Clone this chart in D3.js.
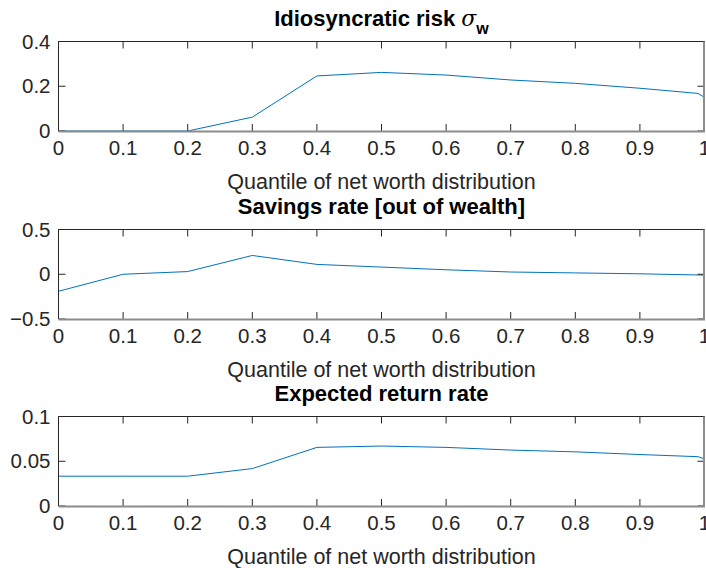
<!DOCTYPE html>
<html>
<head>
<meta charset="utf-8">
<script src="https://cdn.jsdelivr.net/npm/d3@7"></script>
<style>
  body { margin: 0; background: #fff; }
  svg { display: block; }
  text { font-family: "Liberation Sans", Arial, Helvetica, sans-serif; }
</style>
</head>
<body>
<svg id="fig" width="706" height="568"></svg>
<script>
// quantiles of the net worth distribution (x axis, shared)
var quantiles = [0, 0.1, 0.2, 0.3, 0.4, 0.5, 0.6, 0.7, 0.8, 0.9, 0.99, 1];

// series
var riskSigma = [0, 0, 0, 0.062, 0.246, 0.262, 0.250, 0.228, 0.213, 0.191, 0.168, 0.150];
var savingsRate = [-0.19, 0, 0.03, 0.21, 0.11, 0.08, 0.05, 0.025, 0.015, 0.005, -0.008, -0.01];
var returnRate = [0.0333, 0.0333, 0.0333, 0.0418, 0.0655, 0.067, 0.0655, 0.0625, 0.0605, 0.0575, 0.0551, 0.0525];

var xTicks = [0, 0.1, 0.2, 0.3, 0.4, 0.5, 0.6, 0.7, 0.8, 0.9, 1];
var xLabel = 'Quantile of net worth distribution';

var panels = [
  { title: 'Idiosyncratic risk ', sub: true, values: riskSigma, domain: [0, 0.4], ticks: [0, 0.2, 0.4], top: 41.5 },
  { title: 'Savings rate [out of wealth]', values: savingsRate, domain: [-0.5, 0.5], ticks: [-0.5, 0, 0.5], top: 229.5 },
  { title: 'Expected return rate', values: returnRate, domain: [0, 0.1], ticks: [0, 0.05, 0.1], top: 416.5 }
];

var svg = d3.select('#fig');
var left = 58.5, right = 704.5, plotH = 89.5;
var axisColor = '#262626';
var tickLen = 7;

var x = d3.scaleLinear().domain([0, 1]).range([left, right]);

panels.forEach(function (p) {
  var g = svg.append('g');
  var y = d3.scaleLinear().domain(p.domain).range([p.top + plotH, p.top]);

  // data line
  var line = d3.line()
    .x(function (d, i) { return x(quantiles[i]); })
    .y(function (d) { return y(d); });

  g.append('path')
    .datum(p.values)
    .attr('fill', 'none')
    .attr('stroke', '#0072BD')
    .attr('stroke-width', 1)
    .attr('d', line);

  // ticks, inside on all four sides
  xTicks.forEach(function (t) {
    g.append('line').attr('x1', x(t)).attr('x2', x(t))
      .attr('y1', p.top + plotH).attr('y2', p.top + plotH - tickLen)
      .attr('stroke', axisColor);
    g.append('line').attr('x1', x(t)).attr('x2', x(t))
      .attr('y1', p.top).attr('y2', p.top + tickLen)
      .attr('stroke', axisColor);
    g.append('text')
      .attr('x', x(t))
      .attr('y', p.top + plotH + 24)
      .attr('text-anchor', 'middle')
      .attr('font-size', 20.5)
      .attr('fill', axisColor)
      .text(d3.format('~g')(t));
  });

  p.ticks.forEach(function (t) {
    g.append('line').attr('x1', left).attr('x2', left + tickLen)
      .attr('y1', y(t)).attr('y2', y(t)).attr('stroke', axisColor);
    g.append('line').attr('x1', right).attr('x2', right - tickLen)
      .attr('y1', y(t)).attr('y2', y(t)).attr('stroke', axisColor);
    g.append('text')
      .attr('x', left - 8)
      .attr('y', y(t) + 7)
      .attr('text-anchor', 'end')
      .attr('font-size', 20.5)
      .attr('fill', axisColor)
      .text(d3.format('~g')(t));
  });

  // box: left and top crisp, bottom and right softer as in the reference
  g.append('path')
    .attr('d', 'M' + left + ',' + (p.top + plotH) + 'V' + p.top + 'H' + right)
    .attr('fill', 'none')
    .attr('stroke', axisColor);
  g.append('path')
    .attr('d', 'M' + left + ',' + (p.top + plotH + 0.5) + 'H' + (right - 0.5) + 'V' + p.top)
    .attr('fill', 'none')
    .attr('stroke', '#8c8c8c')
    .attr('stroke-width', 2);

  // x axis label
  g.append('text')
    .attr('x', (left + right) / 2)
    .attr('y', p.top + plotH + 58)
    .attr('text-anchor', 'middle')
    .attr('font-size', 21.5)
    .attr('fill', axisColor)
    .text(xLabel);

  // title
  var title = g.append('text')
    .attr('x', (left + right) / 2)
    .attr('y', p.top - 16)
    .attr('text-anchor', 'middle')
    .attr('font-size', 22)
    .attr('font-weight', 'bold')
    .attr('fill', '#000')
    .text(p.title);
  if (p.sub) {
    title.append('tspan')
      .attr('font-family', '"DejaVu Serif", "Liberation Serif", serif')
      .attr('font-style', 'italic')
      .attr('font-weight', 'normal')
      .text('σ');
    title.append('tspan')
      .attr('dy', 8)
      .attr('font-size', 16)
      .text('w');
  }
});
</script>
</body>
</html>
